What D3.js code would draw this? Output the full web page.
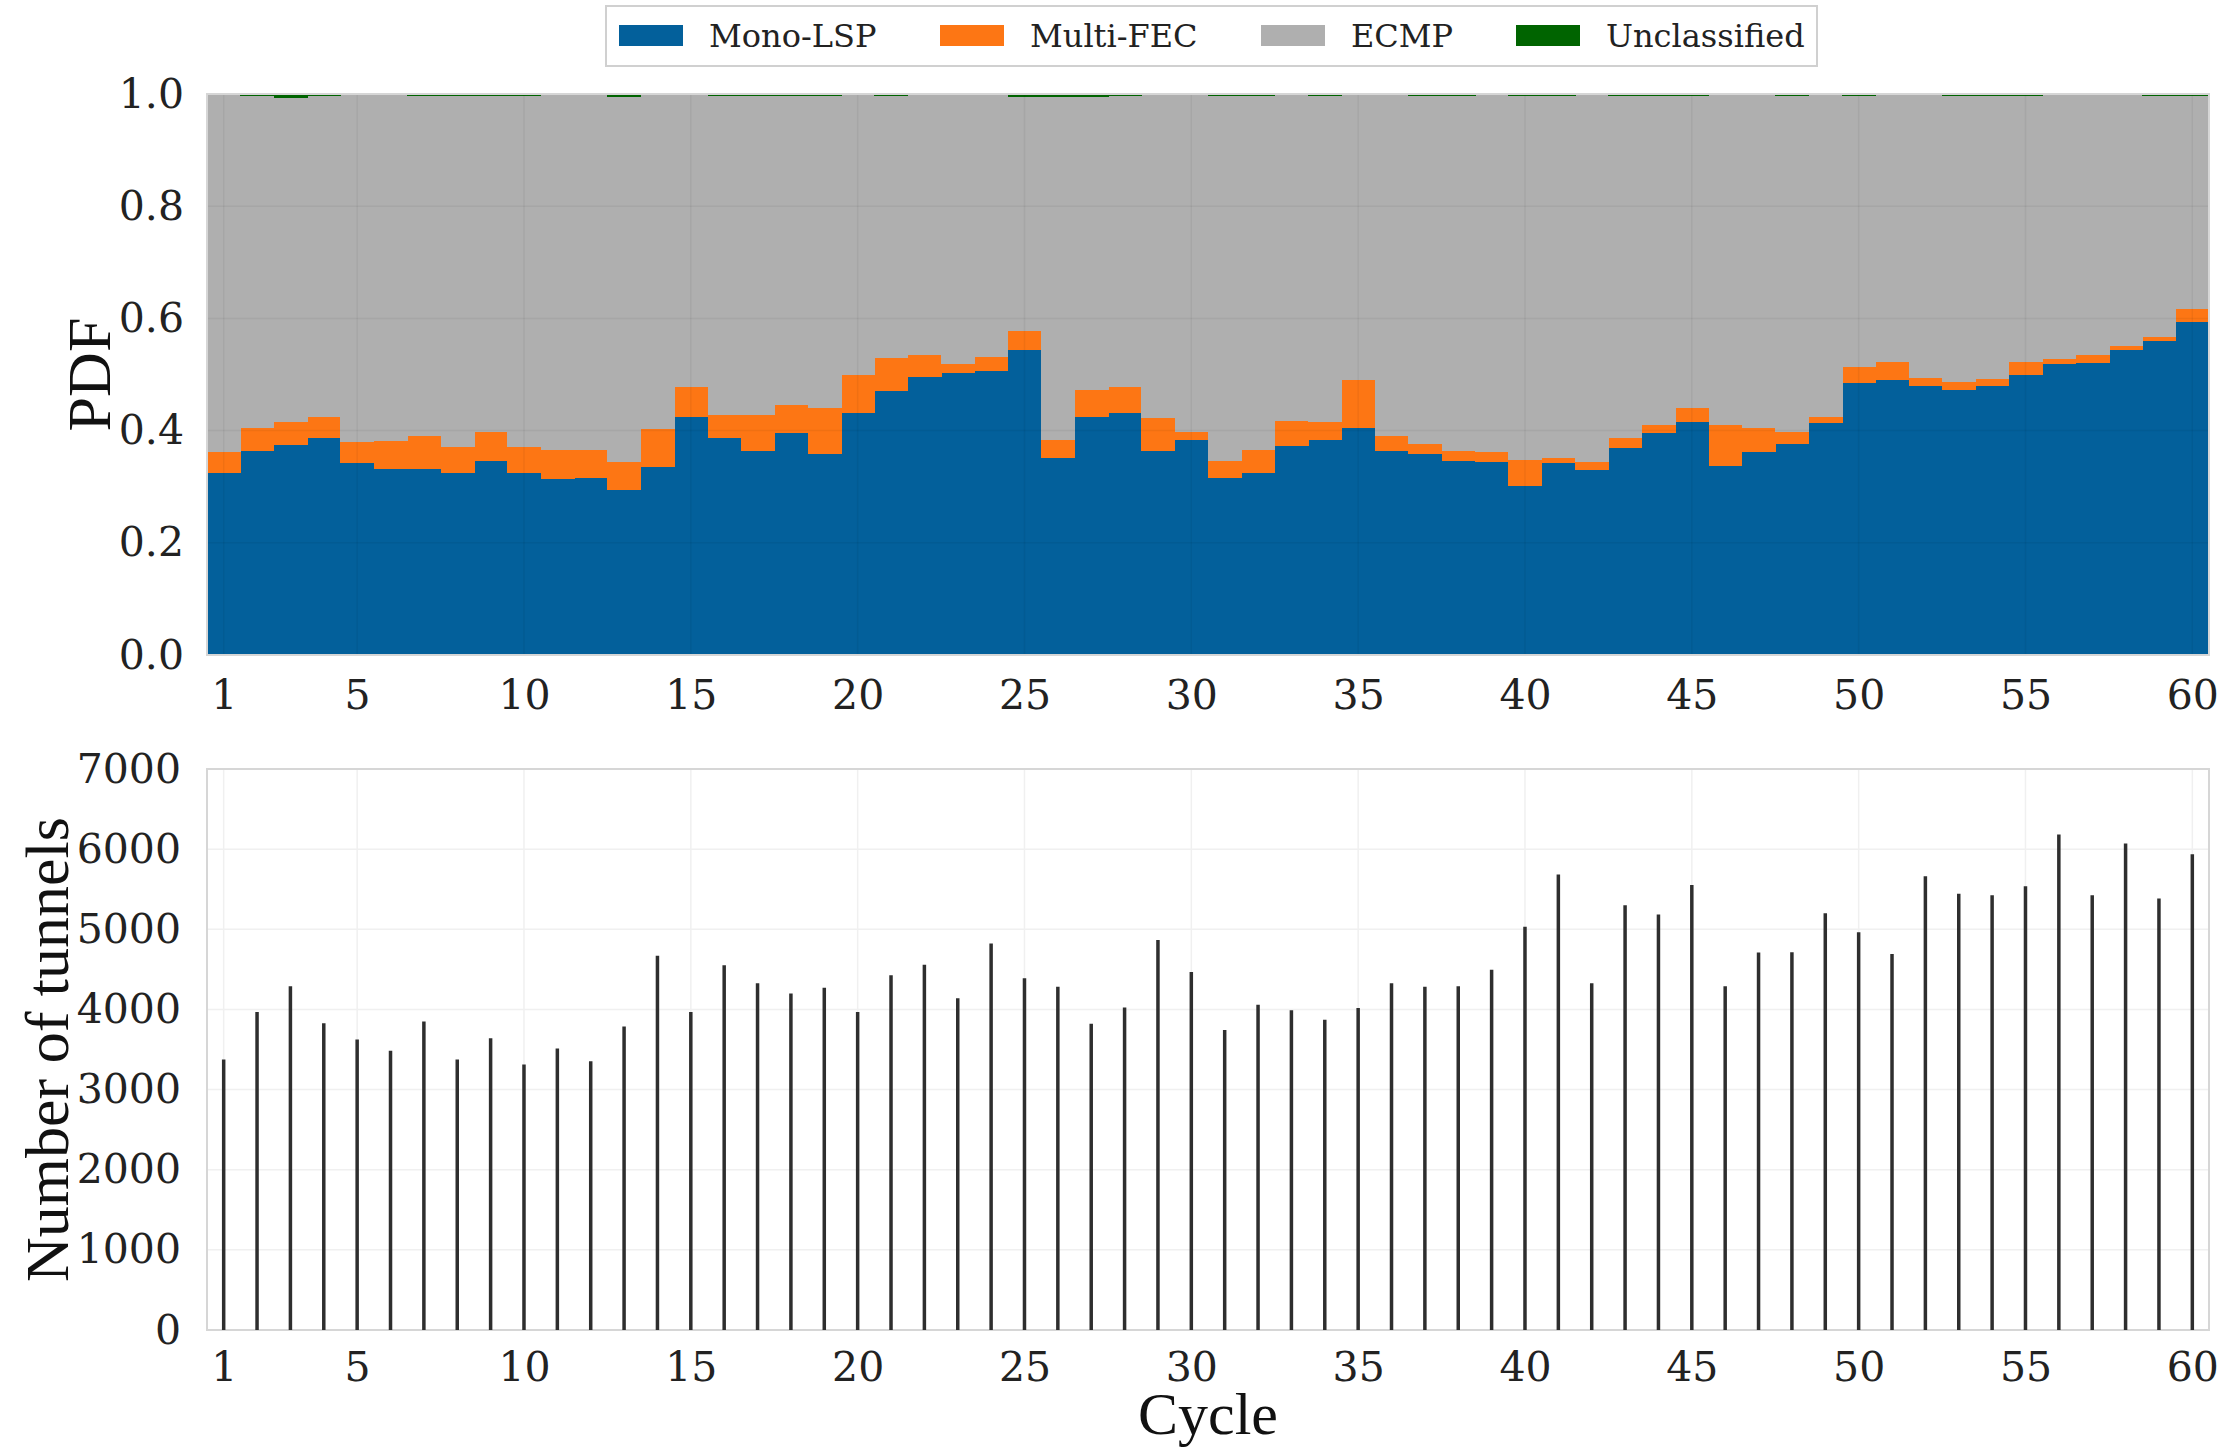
<!DOCTYPE html>
<html>
<head>
<meta charset="utf-8">
<script src="https://cdn.jsdelivr.net/npm/d3@7"></script>
<style>
  body { margin: 0; background: #fff; }
  svg { display: block; }
</style>
</head>
<body>
<svg id="chart" width="2240" height="1449"></svg>
<script>
// cycles 1..60
var cycles = d3.range(1, 61);

// share of tunnels per class, per cycle
var monoLsp = [
  0.325, 0.364, 0.375, 0.387, 0.342, 0.332, 0.332, 0.325, 0.346, 0.325,
  0.314, 0.316, 0.294, 0.336, 0.424, 0.387, 0.364, 0.396, 0.358, 0.432,
  0.471, 0.495, 0.502, 0.507, 0.543, 0.351, 0.425, 0.432, 0.364, 0.383,
  0.315, 0.325, 0.372, 0.383, 0.404, 0.363, 0.358, 0.346, 0.344, 0.301,
  0.343, 0.329, 0.369, 0.396, 0.416, 0.337, 0.361, 0.376, 0.413, 0.485,
  0.491, 0.479, 0.472, 0.479, 0.499, 0.519, 0.521, 0.543, 0.559, 0.594
];
var multiFec = [
  0.037, 0.041, 0.040, 0.037, 0.037, 0.049, 0.058, 0.045, 0.052, 0.045,
  0.051, 0.049, 0.050, 0.067, 0.054, 0.040, 0.063, 0.049, 0.082, 0.067,
  0.059, 0.039, 0.017, 0.025, 0.035, 0.033, 0.048, 0.046, 0.059, 0.015,
  0.031, 0.040, 0.045, 0.033, 0.087, 0.027, 0.018, 0.018, 0.018, 0.047,
  0.008, 0.015, 0.018, 0.014, 0.025, 0.073, 0.044, 0.022, 0.011, 0.028,
  0.031, 0.015, 0.015, 0.013, 0.023, 0.008, 0.013, 0.007, 0.007, 0.023
];
var unclassified = [
  0.002, 0.004, 0.008, 0.004, 0.002, 0.002, 0.004, 0.004, 0.004, 0.004,
  0.002, 0.002, 0.005, 0.002, 0.002, 0.004, 0.004, 0.004, 0.004, 0.002,
  0.004, 0.002, 0.002, 0.002, 0.005, 0.006, 0.005, 0.004, 0.002, 0.002,
  0.003, 0.003, 0.002, 0.003, 0.002, 0.002, 0.003, 0.003, 0.002, 0.003,
  0.003, 0.002, 0.003, 0.003, 0.003, 0.002, 0.002, 0.003, 0.002, 0.003,
  0.002, 0.002, 0.003, 0.003, 0.003, 0.002, 0.002, 0.002, 0.003, 0.003
];
// total number of tunnels per cycle
var tunnels = [
  3376, 3967, 4288, 3826, 3624, 3483, 3849, 3376, 3641, 3314,
  3511, 3354, 3787, 4670, 3967, 4552, 4327, 4198, 4271, 3967,
  4428, 4558, 4141, 4822, 4389, 4282, 3821, 4023, 4867, 4468,
  3742, 4057, 3990, 3871, 4017, 4327, 4282, 4288, 4496, 5031,
  5683, 4327, 5301, 5183, 5554, 4288, 4710, 4715, 5200, 4963,
  4693, 5661, 5442, 5424, 5537, 6184, 5424, 6071, 5385, 5936
];

var classes = ["Mono-LSP", "Multi-FEC", "ECMP", "Unclassified"];
var classColors = ["#03609b", "#fd7614", "#afafaf", "#006400"];
var xTicks = [1, 5, 10, 15, 20, 25, 30, 35, 40, 45, 50, 55, 60];
var pdfTicks = [0.0, 0.2, 0.4, 0.6, 0.8, 1.0];
var tunnelTicks = [0, 1000, 2000, 3000, 4000, 5000, 6000, 7000];

var TICK_FONT = "'DejaVu Serif', serif";
var LABEL_FONT = "'Liberation Serif', 'Times New Roman', serif";

var svg = d3.select("#chart");

var rows = cycles.map(function(c, i) {
  var ecmp = 1 - monoLsp[i] - multiFec[i] - unclassified[i];
  return {cycle: c, "Mono-LSP": monoLsp[i], "Multi-FEC": multiFec[i], "ECMP": ecmp, "Unclassified": unclassified[i]};
});

var x = d3.scaleLinear().domain([0.5, 60.5]).range([207, 2209]);
var yTop = d3.scaleLinear().domain([0, 1]).range([655, 94]);
var yBot = d3.scaleLinear().domain([0, 7000]).range([1330, 769]);

// ---- top panel: stacked PDF ----
var pdfPanel = svg.append("g");
var series = d3.stack().keys(classes)(rows);
pdfPanel.selectAll("g.layer").data(series).enter()
  .append("g")
    .attr("class", "layer")
    .attr("fill", function(d, i) { return classColors[i]; })
  .selectAll("rect").data(function(d) { return d; }).enter()
  .append("rect")
    .attr("x", function(d) { return x(d.data.cycle - 0.5); })
    .attr("width", function(d) { return x(d.data.cycle + 0.5) - x(d.data.cycle - 0.5) + 0.6; })
    .attr("y", function(d) { return yTop(d[1]); })
    .attr("height", function(d) { return yTop(d[0]) - yTop(d[1]); })
    .attr("shape-rendering", "crispEdges");

// faint grid drawn over the fills
pdfPanel.append("g").selectAll("line").data(xTicks).enter().append("line")
  .attr("x1", function(d) { return x(d); }).attr("x2", function(d) { return x(d); })
  .attr("y1", yTop(0)).attr("y2", yTop(1))
  .attr("stroke", "rgba(0,0,0,0.05)").attr("stroke-width", 1.5);
pdfPanel.append("g").selectAll("line").data(pdfTicks).enter().append("line")
  .attr("x1", x.range()[0]).attr("x2", x.range()[1])
  .attr("y1", function(d) { return yTop(d); }).attr("y2", function(d) { return yTop(d); })
  .attr("stroke", "rgba(0,0,0,0.05)").attr("stroke-width", 1.5);
pdfPanel.append("rect")
  .attr("x", x.range()[0]).attr("y", yTop(1))
  .attr("width", x.range()[1] - x.range()[0]).attr("height", yTop(0) - yTop(1))
  .attr("fill", "none").attr("stroke", "#d6d6d6").attr("stroke-width", 2);

// ---- bottom panel: number of tunnels ----
var countPanel = svg.append("g");
countPanel.append("g").selectAll("line").data(xTicks).enter().append("line")
  .attr("x1", function(d) { return x(d); }).attr("x2", function(d) { return x(d); })
  .attr("y1", yBot(0)).attr("y2", yBot(7000))
  .attr("stroke", "#f0f0f0").attr("stroke-width", 1.5);
countPanel.append("g").selectAll("line").data(tunnelTicks).enter().append("line")
  .attr("x1", x.range()[0]).attr("x2", x.range()[1])
  .attr("y1", function(d) { return yBot(d); }).attr("y2", function(d) { return yBot(d); })
  .attr("stroke", "#f0f0f0").attr("stroke-width", 1.5);
countPanel.append("rect")
  .attr("x", x.range()[0]).attr("y", yBot(7000))
  .attr("width", x.range()[1] - x.range()[0]).attr("height", yBot(0) - yBot(7000))
  .attr("fill", "none").attr("stroke", "#d6d6d6").attr("stroke-width", 2);
countPanel.append("g").selectAll("line").data(tunnels).enter().append("line")
  .attr("x1", function(d, i) { return x(cycles[i]); })
  .attr("x2", function(d, i) { return x(cycles[i]); })
  .attr("y1", yBot(0))
  .attr("y2", function(d) { return yBot(d); })
  .attr("stroke", "#2e2e2e").attr("stroke-width", 3.5);

// ---- axes ----
function styleAxis(g) {
  g.select(".domain").remove();
  g.selectAll(".tick line").remove();
  g.selectAll("text").attr("font-family", TICK_FONT).attr("font-size", 41).attr("fill", "#222");
}
svg.append("g").attr("transform", "translate(" + x.range()[0] + ",0)")
  .call(d3.axisLeft(yTop).tickValues(pdfTicks).tickFormat(d3.format(".1f")).tickPadding(17))
  .call(styleAxis);
svg.append("g").attr("transform", "translate(0," + (yTop(0) + 13) + ")")
  .call(d3.axisBottom(x).tickValues(xTicks).tickFormat(d3.format("d")).tickPadding(6))
  .call(styleAxis);
svg.append("g").attr("transform", "translate(" + x.range()[0] + ",0)")
  .call(d3.axisLeft(yBot).tickValues(tunnelTicks).tickFormat(d3.format("d")).tickPadding(20))
  .call(styleAxis);
svg.append("g").attr("transform", "translate(0," + (yBot(0) + 10) + ")")
  .call(d3.axisBottom(x).tickValues(xTicks).tickFormat(d3.format("d")).tickPadding(6))
  .call(styleAxis);

svg.append("text")
  .attr("transform", "translate(89," + (yTop(0.5)) + ") rotate(-90)")
  .attr("text-anchor", "middle").attr("dominant-baseline", "central")
  .attr("font-family", LABEL_FONT).attr("font-size", 62).attr("fill", "#111")
  .text("PDF");
svg.append("text")
  .attr("transform", "translate(47," + (yBot(3500)) + ") rotate(-90)")
  .attr("text-anchor", "middle").attr("dominant-baseline", "central")
  .attr("font-family", LABEL_FONT).attr("font-size", 62).attr("fill", "#111")
  .text("Number of tunnels");
svg.append("text")
  .attr("x", (x.range()[0] + x.range()[1]) / 2).attr("y", 1434)
  .attr("text-anchor", "middle")
  .attr("font-family", LABEL_FONT).attr("font-size", 60).attr("fill", "#111")
  .text("Cycle");

// ---- legend ----
var legend = svg.append("g");
legend.append("rect")
  .attr("x", 606).attr("y", 6).attr("width", 1211).attr("height", 60)
  .attr("fill", "#fff").attr("stroke", "#d0d0d0").attr("stroke-width", 2);
var legendX = [619, 940, 1261, 1516];
var item = legend.selectAll("g.item").data(classes).enter().append("g")
  .attr("class", "item")
  .attr("transform", function(d, i) { return "translate(" + legendX[i] + ",0)"; });
item.append("rect")
  .attr("x", 0).attr("y", 25).attr("width", 64).attr("height", 21)
  .attr("fill", function(d, i) { return classColors[i]; });
item.append("text")
  .attr("x", 90).attr("y", 47)
  .attr("font-family", TICK_FONT).attr("font-size", 32).attr("fill", "#222")
  .text(function(d) { return d; });
</script>
</body>
</html>
